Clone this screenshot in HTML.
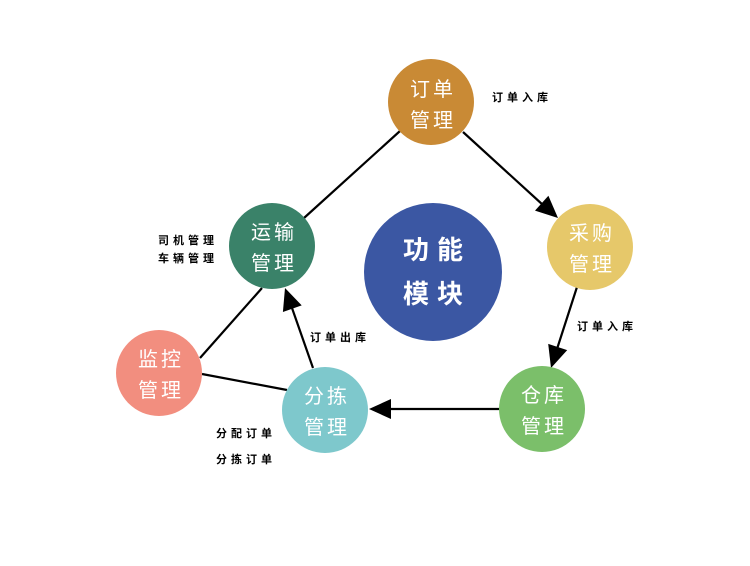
<!DOCTYPE html>
<html><head><meta charset="utf-8"><style>
html,body{margin:0;padding:0;background:#fff;}
svg text{font-family:"Liberation Sans","Noto Sans CJK SC",sans-serif;}
</style></head><body>
<svg width="750" height="561" viewBox="0 0 750 561" xmlns="http://www.w3.org/2000/svg">
<g stroke="#000" stroke-width="2.2" fill="none">
<line x1="463" y1="132" x2="543" y2="205"/>
<line x1="577" y1="287" x2="557" y2="349"/>
<line x1="499" y1="409" x2="389" y2="409"/>
<line x1="313" y1="368" x2="292" y2="308"/>
<line x1="202" y1="374" x2="287" y2="390"/>
<line x1="200" y1="358" x2="262" y2="288"/>
<line x1="304" y1="218" x2="400" y2="131"/>
</g>
<g fill="#000">
<polygon points="558,218 535,210.6 548.4,195.8"/>
<polygon points="551,368 567.2,350.1 548.2,343.9"/>
<polygon points="369,409 391,399 391,419"/>
<polygon points="285,288 301.7,305.4 282.9,312"/>
</g>
<circle cx="431" cy="102" r="43" fill="#c98a35"/>
<circle cx="590" cy="247" r="43" fill="#e6c86a"/>
<circle cx="542" cy="409" r="43" fill="#7bbf6a"/>
<circle cx="325" cy="410" r="43" fill="#7ec8cc"/>
<circle cx="159" cy="373" r="43" fill="#f28e7f"/>
<circle cx="272" cy="246" r="43" fill="#3a8269"/>
<circle cx="433" cy="272" r="69" fill="#3b57a3"/>
<g fill="#fff" font-size="20" text-anchor="middle" letter-spacing="3">
<text x="433" y="96">订单</text><text x="433" y="127">管理</text>
<text x="592" y="240">采购</text><text x="592" y="271">管理</text>
<text x="544" y="402">仓库</text><text x="544" y="433">管理</text>
<text x="327" y="403">分拣</text><text x="327" y="434">管理</text>
<text x="161" y="366">监控</text><text x="161" y="397">管理</text>
<text x="274" y="239">运输</text><text x="274" y="270">管理</text>
</g>
<g fill="#fff" font-size="26" font-weight="bold" text-anchor="middle" letter-spacing="8">
<text x="437" y="259">功能</text><text x="437" y="303">模块</text>
</g>
<g fill="#000" font-size="11" font-weight="bold" letter-spacing="4">
<text x="492" y="101">订单入库</text>
<text x="577" y="330">订单入库</text>
<text x="310" y="341">订单出库</text>
<text x="158" y="244">司机管理</text>
<text x="158" y="262">车辆管理</text>
<text x="216" y="437">分配订单</text>
<text x="216" y="463">分拣订单</text>
</g>
</svg>
</body></html>
